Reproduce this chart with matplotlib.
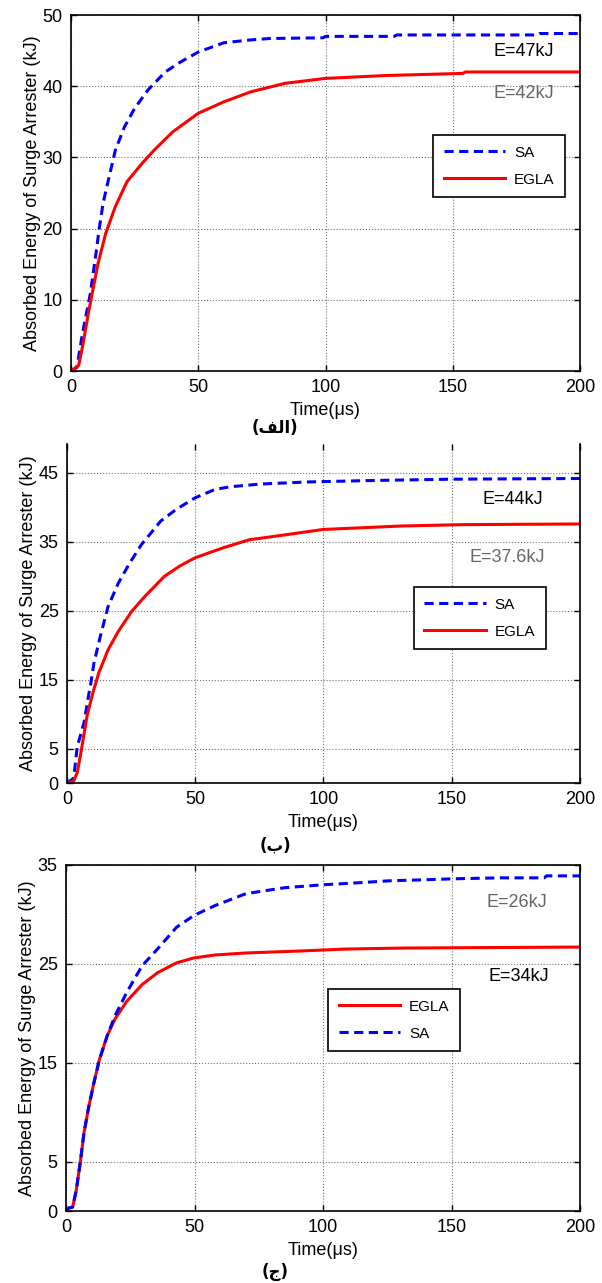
#three stacked energy curves (SA vs EGLA), matlab-looking style

import matplotlib.pyplot as plt
import numpy as np

plt.rcParams['font.family'] = ['Liberation Sans', 'DejaVu Sans']

# panel (a) values
t_sa1 = [0, 2.3, 4.5, 7.6, 9.8, 11, 12.6, 14.4, 17.4, 21, 25, 30.3, 37, 43, 50, 60, 70.5, 78, 99, 100, 127, 128, 183, 184, 200]
e_sa1 = [0, 0.5, 5.3, 10.9, 16.5, 19.8, 23.6, 26.4, 31.0, 34.3, 36.9, 39.5, 42.0, 43.4, 44.8, 46.1, 46.5, 46.7, 46.8, 47.0, 47.0, 47.2, 47.2, 47.4, 47.4]
t_eg1 = [0, 3, 4.5, 6.8, 8.3, 10.6, 13.6, 17.4, 22, 28, 32.6, 40, 50, 60, 70.5, 84, 100, 123.5, 154, 155, 200]
e_eg1 = [0, 0.8, 3.4, 8.1, 10.9, 15.1, 19.3, 23.1, 26.6, 29.2, 31.0, 33.6, 36.2, 37.8, 39.2, 40.4, 41.1, 41.5, 41.8, 42.0, 42.0]

# panel (b)
t_sa2 = [0, 2.6, 4, 6.6, 8.6, 9.3, 10.5, 13, 16, 20, 24.4, 29, 36.5, 42.5, 50, 57.6, 63.6, 75.7, 94, 118, 150, 200]
e_sa2 = [0, 0.7, 5.3, 8.7, 13.1, 14.5, 17.4, 21.3, 25.6, 29.0, 31.9, 34.6, 38.0, 39.7, 41.4, 42.6, 43.0, 43.4, 43.7, 43.9, 44.1, 44.2]
t_eg2 = [0, 2.6, 4, 5.6, 7.8, 10.1, 12.4, 16.1, 20, 25.2, 30.4, 38, 44, 50, 60.6, 71, 84.7, 99.8, 118, 130, 154, 200]
e_eg2 = [0, 0.3, 1.5, 4.8, 9.7, 13.1, 16.0, 19.4, 22.0, 24.9, 27.1, 30.0, 31.5, 32.7, 34.1, 35.3, 36.0, 36.8, 37.1, 37.3, 37.5, 37.6]

# panel (c)
t_sa3 = [0, 1, 2.6, 4, 5.6, 7, 8.9, 10.8, 13, 16, 19, 23.6, 29.6, 35.6, 43, 49.8, 58, 70, 85, 100, 113.6, 125.7, 139, 150, 169, 186, 187, 200]
e_sa3 = [0, 0.3, 0.4, 2.1, 5.0, 7.9, 10.6, 12.9, 15.3, 17.7, 19.7, 22.1, 24.8, 26.5, 28.7, 29.9, 30.9, 32.1, 32.7, 33.0, 33.2, 33.4, 33.5, 33.6, 33.7, 33.7, 33.9, 33.9]
t_eg3 = [0, 1, 2.6, 4, 5.6, 7, 8.9, 10.8, 13, 16, 19, 23.6, 29.6, 35.6, 43, 49.8, 58, 70, 91, 109, 131.7, 200]
e_eg3 = [0, 0.3, 0.4, 2.1, 5.0, 7.9, 10.6, 12.9, 15.3, 17.7, 19.4, 21.2, 22.9, 24.1, 25.1, 25.6, 25.9, 26.1, 26.3, 26.5, 26.6, 26.7]

yticks1 = [0, 10, 20, 30, 40, 50]
yticks2 = [0, 5, 15, 25, 35, 45]
yticks3 = [0, 5, 15, 25, 35]
xticks = [0, 50, 100, 150, 200]

# annotations (text, x, y, colour)
notes1 = [('E=47kJ', 178, 44.9, 'k'), ('E=42kJ', 178, 39.0, '0.4')]
notes2 = [('E=44kJ', 174, 41.1, 'k'), ('E=37.6kJ', 171.5, 32.7, '0.4')]
notes3 = [('E=26kJ', 175.5, 31.2, '0.4'), ('E=34kJ', 176, 23.7, 'k')]

# captions, shaped arabic letters written in visual order
cap1 = '(\uFED2\uFEDF\uFE8D)'
cap2 = '(\uFE8F)'
cap3 = '(\uFE9D)'

fig = plt.figure(figsize=(6.02, 12.83), dpi=100)

ax1 = fig.add_axes([0.118, 0.7108, 0.8455, 0.2775])
ax2 = fig.add_axes([0.1113, 0.3897, 0.852, 0.2642])
ax3 = fig.add_axes([0.1096, 0.0561, 0.854, 0.2697])

def style(ax, yticks, ylim):
    ax.set_xlim(0, 200)
    ax.set_ylim(0, ylim)
    ax.set_xticks(xticks)
    ax.set_yticks(yticks)
    ax.tick_params(direction='in', top=True, right=True, length=4, width=1, labelsize=13, pad=6)
    ax.grid(True, linestyle=':', color='0.45', linewidth=0.8)
    for s in ax.spines.values():
        s.set_linewidth(1.2)
    ax.set_xlabel('Time(\u03bcs)', fontsize=13, labelpad=4)
    ax.set_ylabel('Absorbed Energy of Surge Arrester (kJ)', fontsize=13, labelpad=1)

# panel a
ax1.plot(t_sa1, e_sa1, color='b', linestyle='--', dashes=(3, 1.8), linewidth=2.2, label='SA')
ax1.plot(t_eg1, e_eg1, color='r', linewidth=2.2, label='EGLA')
style(ax1, yticks1, 50)
for txt, x, y, c in notes1:
    ax1.text(x, y, txt, color=c, fontsize=13, ha='center', va='center')
leg = ax1.legend(loc='upper left', bbox_to_anchor=(0.711, 0.663), borderaxespad=0, fancybox=False,
                 edgecolor='k', framealpha=1, fontsize=11, handlelength=4.0, handletextpad=0.6,
                 borderpad=0.7, labelspacing=0.85)
leg.get_frame().set_linewidth(1.2)

# panel b
ax2.plot(t_sa2, e_sa2, color='b', linestyle='--', dashes=(3, 1.8), linewidth=2.2, label='SA')
ax2.plot(t_eg2, e_eg2, color='r', linewidth=2.2, label='EGLA')
style(ax2, yticks2, 49.2)
ax2.spines['top'].set_visible(False)
for txt, x, y, c in notes2:
    ax2.text(x, y, txt, color=c, fontsize=13, ha='center', va='center')
leg = ax2.legend(loc='upper left', bbox_to_anchor=(0.676, 0.578), borderaxespad=0, fancybox=False,
                 edgecolor='k', framealpha=1, fontsize=11, handlelength=4.0, handletextpad=0.6,
                 borderpad=0.7, labelspacing=0.85)
leg.get_frame().set_linewidth(1.2)

# panel c
l_eg, = ax3.plot(t_eg3, e_eg3, color='r', linewidth=2.2, label='EGLA')
l_sa, = ax3.plot(t_sa3, e_sa3, color='b', linestyle='--', dashes=(3, 1.8), linewidth=2.2, label='SA')
style(ax3, yticks3, 35)
for txt, x, y, c in notes3:
    ax3.text(x, y, txt, color=c, fontsize=13, ha='center', va='center')
leg = ax3.legend(handles=[l_eg, l_sa], loc='upper left', bbox_to_anchor=(0.51, 0.642), borderaxespad=0,
                 fancybox=False, edgecolor='k', framealpha=1, fontsize=11, handlelength=4.0,
                 handletextpad=0.6, borderpad=0.7, labelspacing=0.85)
leg.get_frame().set_linewidth(1.2)

# captions under each panel
for cap, ypix in [(cap1, 428), (cap2, 846), (cap3, 1272)]:
    fig.text(275 / 602, 1 - ypix / 1283, cap, fontsize=12, fontweight='bold',
             family='DejaVu Sans', ha='center', va='center')

fig.savefig('out.png', dpi=100)
